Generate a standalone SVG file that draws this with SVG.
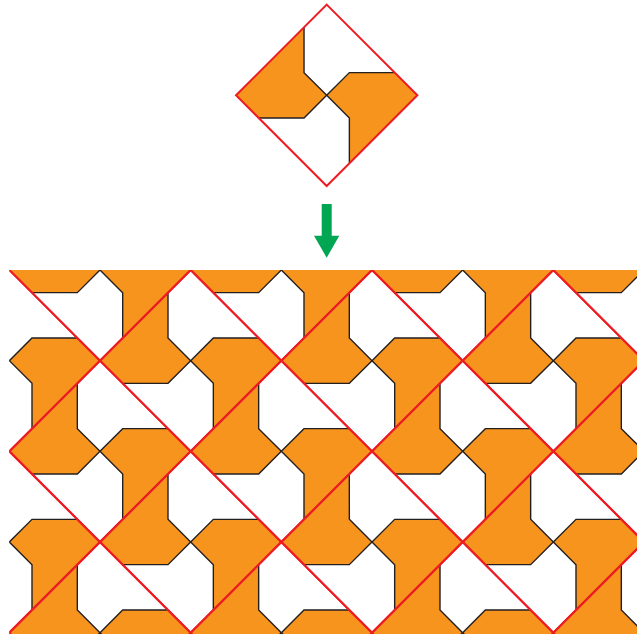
<svg xmlns="http://www.w3.org/2000/svg" xmlns:xlink="http://www.w3.org/1999/xlink" width="637" height="634" viewBox="0 0 637 634">
  <style>
    .orange { fill: #F7941D; stroke: none; }
    .edge { fill: none; stroke: #231F20; stroke-width: 1.4; stroke-linejoin: miter; }
    .frame { fill: none; stroke: #ED1C24; stroke-width: 2; stroke-linejoin: miter; }
    .arrow { fill: #00A651; stroke: none; }
  </style>
  <defs>
    <g id="tile">
      <path class="orange" d="M-90.67,0 L-22.67,-68 L-22.67,-22.67 L0,0 L-22.67,22.67 L-68,22.67 Z"/>
      <path class="orange" d="M90.67,0 L22.67,68 L22.67,22.67 L0,0 L22.67,-22.67 L68,-22.67 Z"/>
      <path class="edge" d="M-22.67,-68 L-22.67,-22.67 L0,0 L-22.67,22.67 L-68,22.67"/>
      <path class="edge" d="M22.67,68 L22.67,22.67 L0,0 L22.67,-22.67 L68,-22.67"/>
    </g>
    <path id="diamond" class="frame" d="M0,-90.67 L90.67,0 L0,90.67 L-90.67,0 Z"/>
    <clipPath id="clipTiling">
      <rect x="9.33" y="270" width="640" height="364"/>
    </clipPath>
  </defs>

  <rect x="0" y="0" width="637" height="634" fill="#FFFFFF"/>

  <g id="single-tile" transform="translate(326.7,95.3)">
    <use xlink:href="#tile" href="#tile"/>
    <use xlink:href="#diamond" href="#diamond"/>
  </g>

  <g id="arrow-down">
    <polygon class="arrow" points="321.7,204 331.7,204 331.7,235.7 339.3,235.7 326.7,257.7 314,235.7 321.7,235.7"/>
  </g>

  <g id="tessellation" clip-path="url(#clipTiling)">
    <g id="tiles">
      <use href="#tile" xlink:href="#tile" transform="translate(100,270)"/>
      <use href="#tile" xlink:href="#tile" transform="translate(281.33,270)"/>
      <use href="#tile" xlink:href="#tile" transform="translate(462.67,270)"/>
      <use href="#tile" xlink:href="#tile" transform="translate(644,270)"/>
      <use href="#tile" xlink:href="#tile" transform="translate(9.33,360.67)"/>
      <use href="#tile" xlink:href="#tile" transform="translate(190.67,360.67)"/>
      <use href="#tile" xlink:href="#tile" transform="translate(372,360.67)"/>
      <use href="#tile" xlink:href="#tile" transform="translate(553.33,360.67)"/>
      <use href="#tile" xlink:href="#tile" transform="translate(100,451.33)"/>
      <use href="#tile" xlink:href="#tile" transform="translate(281.33,451.33)"/>
      <use href="#tile" xlink:href="#tile" transform="translate(462.67,451.33)"/>
      <use href="#tile" xlink:href="#tile" transform="translate(644,451.33)"/>
      <use href="#tile" xlink:href="#tile" transform="translate(9.33,542)"/>
      <use href="#tile" xlink:href="#tile" transform="translate(190.67,542)"/>
      <use href="#tile" xlink:href="#tile" transform="translate(372,542)"/>
      <use href="#tile" xlink:href="#tile" transform="translate(553.33,542)"/>
      <use href="#tile" xlink:href="#tile" transform="translate(100,632.67)"/>
      <use href="#tile" xlink:href="#tile" transform="translate(281.33,632.67)"/>
      <use href="#tile" xlink:href="#tile" transform="translate(462.67,632.67)"/>
      <use href="#tile" xlink:href="#tile" transform="translate(644,632.67)"/>
    </g>
    <g id="frames">
      <use href="#diamond" xlink:href="#diamond" transform="translate(100,270)"/>
      <use href="#diamond" xlink:href="#diamond" transform="translate(281.33,270)"/>
      <use href="#diamond" xlink:href="#diamond" transform="translate(462.67,270)"/>
      <use href="#diamond" xlink:href="#diamond" transform="translate(644,270)"/>
      <use href="#diamond" xlink:href="#diamond" transform="translate(9.33,360.67)"/>
      <use href="#diamond" xlink:href="#diamond" transform="translate(190.67,360.67)"/>
      <use href="#diamond" xlink:href="#diamond" transform="translate(372,360.67)"/>
      <use href="#diamond" xlink:href="#diamond" transform="translate(553.33,360.67)"/>
      <use href="#diamond" xlink:href="#diamond" transform="translate(100,451.33)"/>
      <use href="#diamond" xlink:href="#diamond" transform="translate(281.33,451.33)"/>
      <use href="#diamond" xlink:href="#diamond" transform="translate(462.67,451.33)"/>
      <use href="#diamond" xlink:href="#diamond" transform="translate(644,451.33)"/>
      <use href="#diamond" xlink:href="#diamond" transform="translate(9.33,542)"/>
      <use href="#diamond" xlink:href="#diamond" transform="translate(190.67,542)"/>
      <use href="#diamond" xlink:href="#diamond" transform="translate(372,542)"/>
      <use href="#diamond" xlink:href="#diamond" transform="translate(553.33,542)"/>
      <use href="#diamond" xlink:href="#diamond" transform="translate(100,632.67)"/>
      <use href="#diamond" xlink:href="#diamond" transform="translate(281.33,632.67)"/>
      <use href="#diamond" xlink:href="#diamond" transform="translate(462.67,632.67)"/>
      <use href="#diamond" xlink:href="#diamond" transform="translate(644,632.67)"/>
    </g>
  </g>
</svg>
